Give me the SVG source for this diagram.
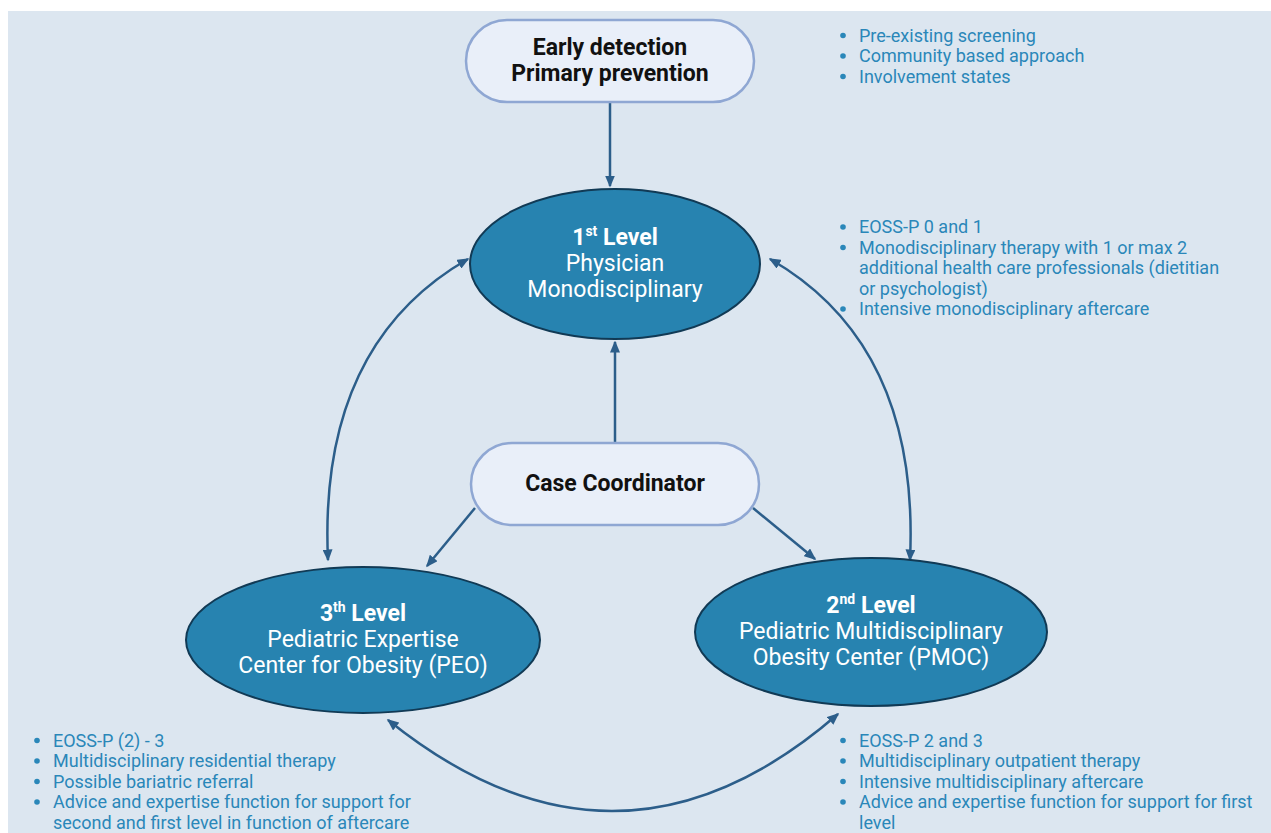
<svg xmlns="http://www.w3.org/2000/svg" width="1271" height="833" viewBox="0 0 1271 833">
  <style>
    .pill { fill: #e9eff9; stroke: #8fa7d3; stroke-width: 2.5; }
    .ell { fill: #2783b0; stroke: #113a55; stroke-width: 2; }
    .ptext { font-family: Roboto, "Liberation Sans", sans-serif; font-size: 23px; font-weight: bold; fill: #111111; text-anchor: middle; }
    .etext { font-family: Roboto, "Liberation Sans", sans-serif; font-size: 23px; fill: #ffffff; text-anchor: middle; }
    .etext .b { font-weight: bold; }
    .list { font-family: Roboto, "Liberation Sans", sans-serif; font-size: 18px; fill: #2a87b9; }
    .dot { fill: #2a87b9; }
    .conn { fill: none; stroke: #2c5e8a; stroke-width: 2.5; }
  </style>
  <defs>
    <marker id="ah" viewBox="0 0 12 10" refX="10.5" refY="5" markerWidth="12" markerHeight="10" markerUnits="userSpaceOnUse" orient="auto-start-reverse">
      <path d="M0,0 L12,5 L0,10 z" fill="#2c5e8a"/>
    </marker>
    <linearGradient id="gUp" gradientUnits="userSpaceOnUse" x1="615" y1="442" x2="615" y2="400">
      <stop offset="0" stop-color="#b9cbe0"/>
      <stop offset="1" stop-color="#2c5e8a"/>
    </linearGradient>
    <linearGradient id="gLeft" gradientUnits="userSpaceOnUse" x1="475" y1="508" x2="455" y2="533">
      <stop offset="0" stop-color="#b9cbe0"/>
      <stop offset="1" stop-color="#2c5e8a"/>
    </linearGradient>
    <linearGradient id="gRight" gradientUnits="userSpaceOnUse" x1="753" y1="508" x2="778" y2="529">
      <stop offset="0" stop-color="#b9cbe0"/>
      <stop offset="1" stop-color="#2c5e8a"/>
    </linearGradient>
  </defs>

  <rect x="8" y="11" width="1263" height="822" fill="#dce6f0"/>

  <g id="connectors">
    <line class="conn" x1="610" y1="103" x2="610" y2="186" marker-end="url(#ah)"/>
    <line class="conn" x1="615" y1="442" x2="615" y2="342" stroke="url(#gUp)" marker-end="url(#ah)"/>
    <line class="conn" x1="475" y1="508" x2="427" y2="566" stroke="url(#gLeft)" marker-end="url(#ah)"/>
    <line class="conn" x1="753" y1="508" x2="815" y2="559" stroke="url(#gRight)" marker-end="url(#ah)"/>
    <path class="conn" d="M328,560 Q318,345 468,259" marker-start="url(#ah)" marker-end="url(#ah)"/>
    <path class="conn" d="M910,560 Q920,345 770,259" marker-start="url(#ah)" marker-end="url(#ah)"/>
    <path class="conn" d="M388,720 Q618,905 838,714" marker-start="url(#ah)" marker-end="url(#ah)"/>
  </g>

  <g id="early-detection">
    <rect class="pill" x="466" y="20" width="288" height="82" rx="41" ry="41"/>
    <text class="ptext" x="610" y="55">Early detection</text>
    <text class="ptext" x="610" y="81">Primary prevention</text>
  </g>

  <g id="level1">
    <ellipse class="ell" cx="615" cy="264" rx="145" ry="75"/>
    <text class="etext" x="615" y="245"><tspan class="b">1<tspan font-size="14" dy="-9">st</tspan><tspan dy="9"> Level</tspan></tspan></text>
    <text class="etext" x="615" y="271">Physician</text>
    <text class="etext" x="615" y="297">Monodisciplinary</text>
  </g>

  <g id="case-coordinator">
    <rect class="pill" x="471" y="443" width="288" height="82" rx="41" ry="41"/>
    <text class="ptext" x="615" y="491">Case Coordinator</text>
  </g>

  <g id="level3">
    <ellipse class="ell" cx="363" cy="640" rx="177" ry="73"/>
    <text class="etext" x="363" y="621"><tspan class="b">3<tspan font-size="14" dy="-9">th</tspan><tspan dy="9"> Level</tspan></tspan></text>
    <text class="etext" x="363" y="647">Pediatric Expertise</text>
    <text class="etext" x="363" y="673">Center for Obesity (PEO)</text>
  </g>

  <g id="level2">
    <ellipse class="ell" cx="871" cy="632" rx="176" ry="74"/>
    <text class="etext" x="871" y="613"><tspan class="b">2<tspan font-size="14" dy="-9">nd</tspan><tspan dy="9"> Level</tspan></tspan></text>
    <text class="etext" x="871" y="639">Pediatric Multidisciplinary</text>
    <text class="etext" x="871" y="665">Obesity Center (PMOC)</text>
  </g>

  <g id="list-prevention">
    <circle class="dot" cx="843" cy="35.5" r="2.8"/>
    <circle class="dot" cx="843" cy="56" r="2.8"/>
    <circle class="dot" cx="843" cy="76.5" r="2.8"/>
    <text class="list" x="859" y="41.5">Pre-existing screening</text>
    <text class="list" x="859" y="62">Community based approach</text>
    <text class="list" x="859" y="82.5">Involvement states</text>
  </g>

  <g id="list-level1">
    <circle class="dot" cx="843" cy="227" r="2.8"/>
    <circle class="dot" cx="843" cy="247.5" r="2.8"/>
    <circle class="dot" cx="843" cy="309" r="2.8"/>
    <text class="list" x="859" y="233">EOSS-P 0 and 1</text>
    <text class="list" x="859" y="253.5">Monodisciplinary therapy with 1 or max 2</text>
    <text class="list" x="859" y="274">additional health care professionals (dietitian</text>
    <text class="list" x="859" y="294.5">or psychologist)</text>
    <text class="list" x="859" y="315">Intensive monodisciplinary aftercare</text>
  </g>

  <g id="list-level3">
    <circle class="dot" cx="37" cy="740.5" r="2.8"/>
    <circle class="dot" cx="37" cy="761" r="2.8"/>
    <circle class="dot" cx="37" cy="781.5" r="2.8"/>
    <circle class="dot" cx="37" cy="802" r="2.8"/>
    <text class="list" x="53" y="746.5">EOSS-P (2) - 3</text>
    <text class="list" x="53" y="767">Multidisciplinary residential therapy</text>
    <text class="list" x="53" y="787.5">Possible bariatric referral</text>
    <text class="list" x="53" y="808">Advice and expertise function for support for</text>
    <text class="list" x="53" y="828.5">second and first level in function of aftercare</text>
  </g>

  <g id="list-level2">
    <circle class="dot" cx="843" cy="740.5" r="2.8"/>
    <circle class="dot" cx="843" cy="761" r="2.8"/>
    <circle class="dot" cx="843" cy="781.5" r="2.8"/>
    <circle class="dot" cx="843" cy="802" r="2.8"/>
    <text class="list" x="859" y="746.5">EOSS-P 2 and 3</text>
    <text class="list" x="859" y="767">Multidisciplinary outpatient therapy</text>
    <text class="list" x="859" y="787.5">Intensive multidisciplinary aftercare</text>
    <text class="list" x="859" y="808">Advice and expertise function for support for first</text>
    <text class="list" x="859" y="828.5">level</text>
  </g>
</svg>
